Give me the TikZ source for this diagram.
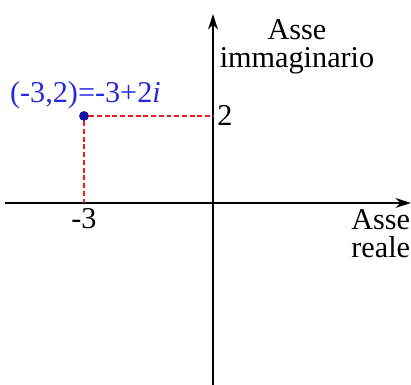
\documentclass[tikz,border=0pt]{standalone}
\usepackage{fontspec}
\setmainfont{Liberation Serif}
\usetikzlibrary{arrows.meta, positioning, calc}
\definecolor{cpBlue}{RGB}{40,40,225}
\definecolor{cpDot}{RGB}{20,20,160}
\definecolor{cpRed}{RGB}{235,30,30}

\begin{document}
\begin{tikzpicture}[
  axis/.style={line width=1.6pt, -{Stealth[length=11pt, width=7pt]}},
  guide/.style={draw=cpRed, dash pattern=on 3.5pt off 2pt, line width=1pt},
  lbl/.style={font=\fontsize{21.5}{20}\selectfont, inner sep=1pt},
]
  \useasboundingbox (-5.325,-4.55) rectangle (4.95,5.075);

  % AXES
  \coordinate (O) at (0,0);
  \coordinate (xl) at (-5.2,0);
  \coordinate (xr) at (4.95,0);
  \coordinate (yb) at (0,-4.55);
  \coordinate (yt) at (0,4.725);
  \draw[axis] (xl) -- (xr);
  \draw[axis] (yb) -- (yt);

  % POINT
  \node[circle, fill=cpDot, inner sep=0pt, minimum size=7pt] (P) at (-3.225,2.175) {};
  \coordinate (Px) at (P |- O);
  \coordinate (Py) at (P -| O);
  \draw[guide] (P) -- (Py);
  \draw[guide] (P) -- (Px);

  % LABELS
  \node[lbl, below=3pt of Px] (lx) {-3};
  \node[lbl, right=2pt of Py] (ly) {2};
  \node[lbl, text=cpBlue, above=0pt of P, xshift=1pt] (lp) {(-3,2)=-3+2\textit{i}};
  \node[lbl, align=center, anchor=north] (limm) at (2.1,4.64) {Asse\\immaginario};
  \node[lbl, align=right, anchor=north east] (lre) at (4.97,-0.12) {Asse\\reale};
\end{tikzpicture}
\end{document}
